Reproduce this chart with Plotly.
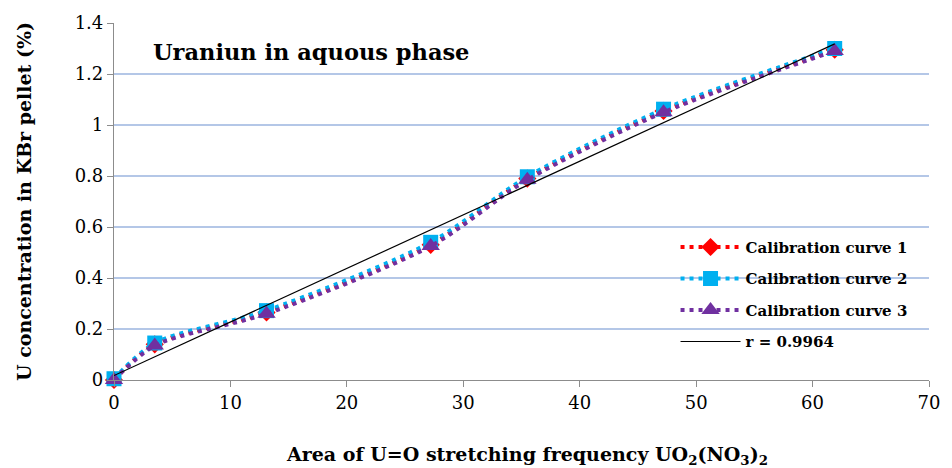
import numpy as np
import plotly.graph_objects as go

area = [0, 3.5, 13.1, 27.2, 35.5, 47.2, 61.9]
curve1 = [0.0, 0.14, 0.265, 0.53, 0.79, 1.055, 1.295]
curve2 = [0.005, 0.145, 0.272, 0.54, 0.797, 1.062, 1.30]
curve3 = [0.0, 0.135, 0.26, 0.525, 0.785, 1.05, 1.29]
names = ["Calibration curve 1", "Calibration curve 2", "Calibration curve 3"]
colors = ["#ff0000", "#00b0f0", "#7030a0"]
symbols = ["diamond", "square", "triangle-up"]
marker_sizes = [14, 15, 16]
fit_label = "r = 0.9964"
x_ticks = [0, 10, 20, 30, 40, 50, 60, 70]
y_ticks = [0, 0.2, 0.4, 0.6, 0.8, 1.0, 1.2, 1.4]
y_ticktext = ["0", "0.2", "0.4", "0.6", "0.8", "1", "1.2", "1.4"]

FONT = "DejaVu Serif"

fig = go.Figure()
for ys, nm, col, sym, ms in zip([curve1, curve2, curve3], names, colors, symbols, marker_sizes):
    fig.add_trace(go.Scatter(
        x=area, y=ys, name=nm, mode="lines+markers",
        line=dict(color=col, width=4, dash="4px,5px", shape="spline", smoothing=0.8),
        marker=dict(color=col, symbol=sym, size=ms),
        cliponaxis=False, legendgroup=nm,
    ))

# linear calibration fit from the averaged data
mean_y = np.mean([curve1, curve2, curve3], axis=0)
slope, intercept = np.polyfit(area, mean_y, 1)
fx = np.array([area[0], area[-1]])
fig.add_trace(go.Scatter(
    x=fx, y=slope * fx + intercept, name=fit_label, mode="lines",
    line=dict(color="#000000", width=1.2), cliponaxis=False, legendgroup="fit",
))

fig.update_layout(
    width=952, height=468,
    margin=dict(l=114, r=14, t=23, b=88),
    paper_bgcolor="white", plot_bgcolor="white",
    font=dict(family=FONT, size=18, color="#000000"),
    showlegend=True,
    legend=dict(
        x=0.689, y=0.418, xanchor="left", yanchor="top",
        font=dict(family=FONT, size=15, color="#000000", weight="bold"),
        bgcolor="rgba(0,0,0,0)", traceorder="grouped", tracegroupgap=9,
        itemwidth=60,
    ),
    annotations=[
        dict(text="<b>Uraniun in aquous phase</b>", x=0.045, y=0.92,
             xref="paper", yref="paper", xanchor="left", yanchor="middle",
             showarrow=False, font=dict(family=FONT, size=22.5, color="#000000")),
        dict(text="<b>Area of U=O stretching frequency UO<sub>2</sub>(NO<sub>3</sub>)<sub>2</sub></b>",
             x=0.507, y=-0.212, xref="paper", yref="paper", xanchor="center", yanchor="middle",
             showarrow=False, font=dict(family=FONT, size=19, color="#000000")),
    ],
)
fig.update_xaxes(
    range=[0, 70], tickvals=x_ticks, showgrid=False, zeroline=False,
    showline=True, linecolor="#8c8c8c", linewidth=1.2,
    ticks="outside", ticklen=6, tickcolor="#8c8c8c",
    tickfont=dict(family=FONT, size=18, color="#000000"),
)
fig.update_yaxes(
    range=[0, 1.4], tickvals=y_ticks, ticktext=y_ticktext,
    showgrid=True, gridcolor="#b4c7e7", gridwidth=1.5, zeroline=False,
    showline=True, linecolor="#8c8c8c", linewidth=1.2,
    ticks="outside", ticklen=6, tickcolor="#8c8c8c",
    tickfont=dict(family=FONT, size=18, color="#000000"),
    title=dict(text="<b>U concentration in KBr pellet (%)</b>",
               font=dict(family=FONT, size=19, color="#000000"), standoff=38),
)

fig.write_html("out.html")
